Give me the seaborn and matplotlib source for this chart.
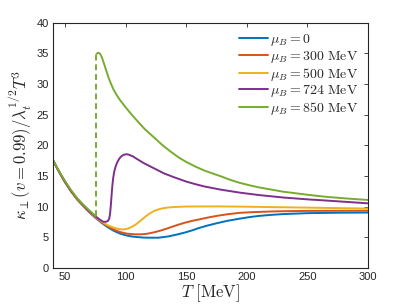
import matplotlib
matplotlib.use("Agg")
import matplotlib.pyplot as plt
import seaborn as sns

# ---- data ----
T_blue = [40, 45, 50, 55, 60, 65, 70, 75, 80, 85, 90, 95, 100, 105, 110, 115, 120, 127, 135, 142, 149, 155, 160, 167, 175, 184, 194, 202, 210, 220, 230, 250, 275, 300]
k_blue = [17.6, 15.7, 14.0, 12.5, 11.2, 10.1, 9.1, 8.2, 7.4, 6.7, 6.1, 5.65, 5.35, 5.15, 5.05, 4.97, 4.95, 4.95, 5.15, 5.45, 5.8, 6.15, 6.5, 6.9, 7.3, 7.7, 8.05, 8.3, 8.5, 8.67, 8.8, 8.95, 9.02, 9.05]

T_orange = [40, 45, 50, 55, 60, 65, 70, 75, 80, 85, 90, 95, 100, 104, 108, 112, 116, 120, 125, 130, 135, 142, 149, 155, 160, 167, 175, 184, 194, 205, 225, 250, 300]
k_orange = [17.6, 15.7, 14.0, 12.5, 11.2, 10.15, 9.15, 8.3, 7.5, 6.85, 6.3, 5.9, 5.65, 5.55, 5.5, 5.5, 5.55, 5.68, 5.9, 6.18, 6.5, 6.98, 7.4, 7.7, 7.9, 8.2, 8.5, 8.77, 9.0, 9.12, 9.25, 9.32, 9.35]

T_yellow = [40, 45, 50, 55, 60, 65, 70, 75, 80, 85, 90, 93, 96, 98, 100, 102, 105, 108, 111, 114, 117, 120, 123, 126, 130, 135, 140, 150, 175, 200, 250, 300]
k_yellow = [17.6, 15.7, 14.0, 12.5, 11.2, 10.15, 9.2, 8.35, 7.6, 7.0, 6.6, 6.42, 6.32, 6.3, 6.35, 6.45, 6.7, 7.05, 7.5, 8.0, 8.5, 8.9, 9.25, 9.5, 9.72, 9.87, 9.95, 10.03, 10.05, 10.0, 9.85, 9.7]

T_purple = [40, 45, 50, 55, 60, 65, 70, 75, 78, 81.5, 84, 85.5, 86.5, 87.2, 87.8, 88.4, 89, 89.7, 90.5, 91.5, 93, 95, 97, 99, 101, 103, 106, 110, 115, 120, 126, 132, 140, 150, 158, 165, 178, 194, 210, 230, 250, 266, 285, 300]
k_purple = [17.6, 15.75, 14.05, 12.55, 11.3, 10.25, 9.25, 8.45, 8.0, 7.55, 7.55, 7.7, 8.1, 8.9, 10.2, 11.8, 13.3, 14.6, 15.6, 16.4, 17.2, 17.9, 18.3, 18.5, 18.55, 18.45, 18.2, 17.7, 17.1, 16.6, 16.0, 15.4, 14.8, 14.1, 13.65, 13.3, 12.8, 12.3, 11.9, 11.5, 11.2, 11.0, 10.75, 10.55]

T_green_low = [40, 45, 50, 55, 60, 65, 70, 75.3]
k_green_low = [17.6, 15.8, 14.2, 12.7, 11.4, 10.35, 9.4, 8.5]
T_green_jump = [75.3, 75.3]
k_green_jump = [8.5, 35.0]
T_green = [76, 77.5, 79, 80.5, 82, 84, 86, 88, 90, 92.6, 95.3, 100, 105, 110, 116, 122.8, 130, 137, 144, 150, 158, 165, 172, 178, 186, 194, 202, 210, 220, 230, 240, 250, 266, 285, 300]
k_green = [34.9, 35.1, 34.9, 34.3, 33.4, 32.2, 31.0, 30.0, 29.1, 28.2, 27.4, 26.2, 25.0, 23.9, 22.6, 21.4, 20.1, 19.0, 18.0, 17.3, 16.5, 15.9, 15.4, 15.0, 14.4, 13.9, 13.5, 13.15, 12.8, 12.45, 12.2, 11.95, 11.6, 11.3, 11.1]

labels = [r"$\mu_B = 0$", r"$\mu_B = 300\ \mathrm{MeV}$", r"$\mu_B = 500\ \mathrm{MeV}$",
          r"$\mu_B = 724\ \mathrm{MeV}$", r"$\mu_B = 850\ \mathrm{MeV}$"]
colors = ["#0072BD", "#D95319", "#EDB120", "#7E2F8E", "#77AC30"]
xticks = [50, 100, 150, 200, 250, 300]
yticks = [0, 5, 10, 15, 20, 25, 30, 35, 40]

sns.set_style("white")
plt.rcParams["mathtext.fontset"] = "cm"
plt.rcParams["font.family"] = ["Liberation Sans", "DejaVu Sans"]

fig = plt.figure(figsize=(4.07, 3.05), dpi=100)
ax = fig.add_axes([0.130, 0.121, 0.774, 0.805])

series = [(T_blue, k_blue), (T_orange, k_orange), (T_yellow, k_yellow), (T_purple, k_purple), (T_green, k_green)]
lw = 1.4
for (T, k), lab, c in zip(series, labels, colors):
    sns.lineplot(x=T, y=k, ax=ax, color=c, lw=lw, label=lab, estimator=None, sort=False)
sns.lineplot(x=T_green_low, y=k_green_low, ax=ax, color=colors[4], lw=lw, estimator=None, sort=False)
sns.lineplot(x=T_green_jump, y=k_green_jump, ax=ax, color=colors[4], lw=lw, linestyle=(0, (3, 2)),
             estimator=None, sort=False)

ax.set_xlim(40, 300)
ax.set_ylim(0, 40)
ax.set_xticks(xticks)
ax.set_yticks(yticks)
gray = "#262626"
for s in ax.spines.values():
    s.set_visible(True)
    s.set_color(gray)
    s.set_linewidth(0.8)
ax.tick_params(direction="in", length=3, width=0.6, colors=gray, labelsize=8,
               top=True, right=True, labelcolor=gray, pad=3)
ax.set_xlabel(r"$T\ [\mathrm{MeV}]$", fontsize=12, labelpad=0)
ax.set_ylabel(r"$\kappa_\perp(v=0.99)/\lambda_t^{1/2}T^3$", fontsize=12, labelpad=2)

leg = ax.legend(loc="upper right", bbox_to_anchor=(0.995, 0.995), frameon=False, fontsize=10,
                handlelength=2.1, handletextpad=0.15, labelspacing=0.05, borderaxespad=0.2)

fig.savefig("out.png", dpi=100)
